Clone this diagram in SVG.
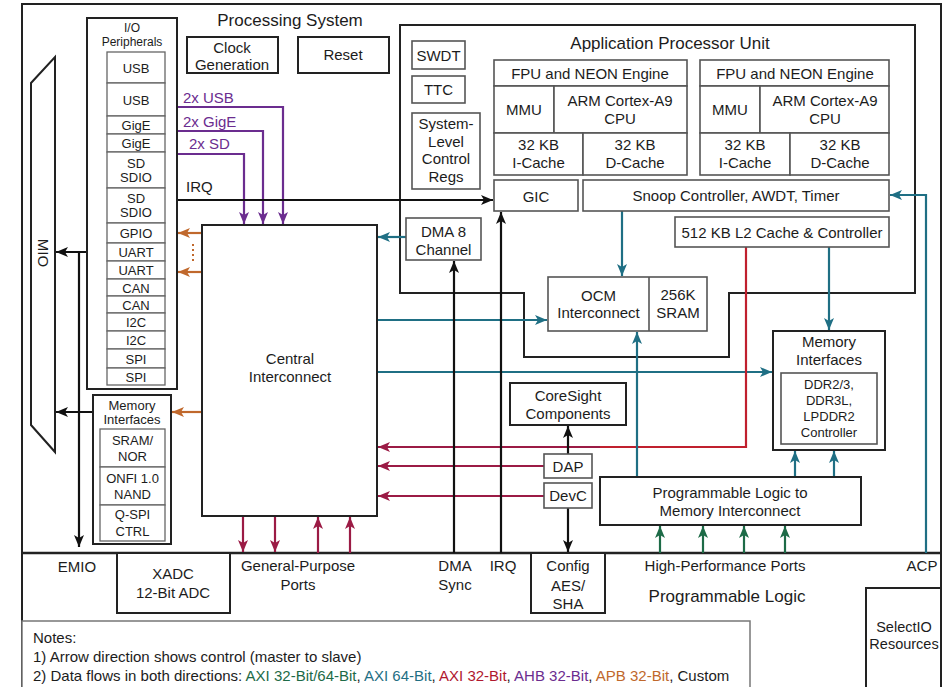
<svg xmlns="http://www.w3.org/2000/svg" width="945" height="687" viewBox="0 0 945 687">
<defs>
<style>
text{font-family:"Liberation Sans",Arial,sans-serif;fill:#1c1c1c;text-anchor:middle;dominant-baseline:central;font-size:15px}
.s13{font-size:13px}
.s12{font-size:12px}
.t17{font-size:17px}
.box{fill:#fff;stroke:#222;stroke-width:2}
.sub{fill:#fff;stroke:#555;stroke-width:1.6}
.cell{fill:#fff;stroke:#666;stroke-width:1.3}
.ln{fill:none;stroke-width:2.2}
.k{stroke:#111}
.tl{stroke:#1f6f84}
.rd{stroke:#9b1b45}
.pu{stroke:#6b2d8f}
.or{stroke:#c0682c}
.gr{stroke:#1d6b47}
.left{text-anchor:start}
</style>
<marker id="ak" viewBox="0 0 12 10" refX="12" refY="5" markerWidth="12" markerHeight="10" markerUnits="userSpaceOnUse" orient="auto"><path d="M0,0 L12,5 L0,10 L3,5 Z" fill="#111"/></marker>
<marker id="at" viewBox="0 0 12 10" refX="12" refY="5" markerWidth="12" markerHeight="10" markerUnits="userSpaceOnUse" orient="auto"><path d="M0,0 L12,5 L0,10 L3,5 Z" fill="#1f6f84"/></marker>
<marker id="ar" viewBox="0 0 12 10" refX="12" refY="5" markerWidth="12" markerHeight="10" markerUnits="userSpaceOnUse" orient="auto"><path d="M0,0 L12,5 L0,10 L3,5 Z" fill="#9b1b45"/></marker>
<marker id="ap" viewBox="0 0 12 10" refX="12" refY="5" markerWidth="12" markerHeight="10" markerUnits="userSpaceOnUse" orient="auto"><path d="M0,0 L12,5 L0,10 L3,5 Z" fill="#6b2d8f"/></marker>
<marker id="ao" viewBox="0 0 12 10" refX="12" refY="5" markerWidth="12" markerHeight="10" markerUnits="userSpaceOnUse" orient="auto"><path d="M0,0 L12,5 L0,10 L3,5 Z" fill="#c0682c"/></marker>
<marker id="ag" viewBox="0 0 12 10" refX="12" refY="5" markerWidth="12" markerHeight="10" markerUnits="userSpaceOnUse" orient="auto"><path d="M0,0 L12,5 L0,10 L3,5 Z" fill="#1d6b47"/></marker>
</defs>
<rect width="945" height="687" fill="#fff"/>

<!-- outer frames -->
<g id="frame">
<rect x="22" y="4" width="919" height="700" fill="none" stroke="#222" stroke-width="2"/>
<line x1="22" y1="553" x2="941" y2="553" stroke="#222" stroke-width="2.5"/>
<text x="290" y="20" class="t17">Processing System</text>
<text x="727" y="596" class="t17">Programmable Logic</text>
</g>

<!-- APU -->
<g id="apu">
<path d="M400,25 H915 V293 H729 V357 H524 V293 H400 Z" fill="none" stroke="#222" stroke-width="2"/>
<text x="670" y="43" class="t17">Application Processor Unit</text>
</g>

<g id="connectors">
<!-- AHB purple -->
<path class="ln pu" d="M177,107 H283 V224" marker-end="url(#ap)"/>
<path class="ln pu" d="M177,131 H263 V224" marker-end="url(#ap)"/>
<path class="ln pu" d="M177,154 H244 V224" marker-end="url(#ap)"/>
<!-- IRQ -->
<path class="ln k" d="M177,200 H493" marker-end="url(#ak)"/>
<!-- APB orange -->
<path class="ln or" d="M202,233 H178" marker-end="url(#ao)"/>
<path class="ln or" d="M202,272 H178" marker-end="url(#ao)"/>
<line x1="193" y1="244" x2="193" y2="262" stroke="#c0682c" stroke-width="2" stroke-dasharray="2,3"/>
<path class="ln or" d="M202,412 H172" marker-end="url(#ao)"/>
<!-- MIO / EMIO -->
<path class="ln k" d="M107,252 H56" marker-end="url(#ak)"/>
<path class="ln k" d="M79,252 V547" marker-end="url(#ak)"/>
<path class="ln k" d="M93,412 H56" marker-end="url(#ak)"/>
<!-- DMA teal -->
<path class="ln tl" d="M406,237 H378" marker-end="url(#at)"/>
<!-- central to OCM / memory -->
<path class="ln tl" d="M377,320 H547" marker-end="url(#at)"/>
<path class="ln tl" d="M377,372 H772" marker-end="url(#at)"/>
<!-- snoop to OCM, L2 to memory -->
<path class="ln tl" d="M622,211 V276" marker-end="url(#at)"/>
<path class="ln tl" d="M829,247 V330" marker-end="url(#at)"/>
<!-- ACP -->
<path class="ln tl" d="M926,553 V195 H890" marker-end="url(#at)"/>
<!-- red AXI 32 -->
<path class="ln" stroke="#c0202e" d="M746,247 V447 H600"/>
<path class="ln rd" d="M600,447 H378" marker-end="url(#ar)"/>
<path class="ln rd" d="M544,466 H378" marker-end="url(#ar)"/>
<path class="ln rd" d="M544,496 H378" marker-end="url(#ar)"/>
<!-- DMA sync, IRQ verticals -->
<path class="ln k" d="M454,553 V261" marker-end="url(#ak)"/>
<path class="ln k" d="M501,553 V212" marker-end="url(#ak)"/>
<!-- DAP / DevC -->
<path class="ln k" d="M568,454 V426" marker-end="url(#ak)"/>
<path class="ln k" d="M568,508 V552" marker-end="url(#ak)"/>
<!-- PL to memory interconnect -->
<path class="ln tl" d="M637,477 V332" marker-end="url(#at)"/>
<path class="ln tl" d="M795,477 V451" marker-end="url(#at)"/>
<path class="ln tl" d="M834,477 V451" marker-end="url(#at)"/>
<!-- HP ports green -->
<path class="ln gr" d="M660,553 V526" marker-end="url(#ag)"/>
<path class="ln gr" d="M703,553 V526" marker-end="url(#ag)"/>
<path class="ln gr" d="M744,553 V526" marker-end="url(#ag)"/>
<path class="ln gr" d="M785,553 V526" marker-end="url(#ag)"/>
<!-- GP ports red -->
<path class="ln rd" d="M243,516 V552" marker-end="url(#ar)"/>
<path class="ln rd" d="M275,516 V552" marker-end="url(#ar)"/>
<path class="ln rd" d="M318,553 V517" marker-end="url(#ar)"/>
<path class="ln rd" d="M350,553 V517" marker-end="url(#ar)"/>
</g>

<g id="labels">
<text x="183" y="97" class="left" style="fill:#6b2d8f">2x USB</text>
<text x="183" y="121" class="left" style="fill:#6b2d8f">2x GigE</text>
<text x="189" y="143" class="left" style="fill:#6b2d8f">2x SD</text>
<text x="186" y="186" class="left">IRQ</text>
<text x="77" y="566">EMIO</text>
<text x="298" y="565">General-Purpose</text>
<text x="298" y="584">Ports</text>
<text x="455" y="565">DMA</text>
<text x="455" y="584">Sync</text>
<text x="503" y="565">IRQ</text>
<text x="725" y="565">High-Performance Ports</text>
<text x="922" y="565">ACP</text>
</g>

<g id="mio">
<path d="M31,83 L55,57 V452 L31,425 Z" fill="#fff" stroke="#222" stroke-width="2"/>
<text x="43" y="253" transform="rotate(90 43 253)">MIO</text>
</g>

<g id="io-peripherals">
<rect class="box" x="87" y="18" width="90" height="371"/>
<text x="132" y="28" class="s12">I/O</text>
<text x="132" y="42" class="s12">Peripherals</text>
<rect class="cell" x="107" y="52" width="58" height="31"/>
<rect class="cell" x="107" y="83" width="58" height="33"/>
<rect class="cell" x="107" y="116" width="58" height="18"/>
<rect class="cell" x="107" y="134" width="58" height="18"/>
<rect class="cell" x="107" y="152" width="58" height="36"/>
<rect class="cell" x="107" y="188" width="58" height="35"/>
<rect class="cell" x="107" y="223" width="58" height="20"/>
<rect class="cell" x="107" y="243" width="58" height="18"/>
<rect class="cell" x="107" y="261" width="58" height="18"/>
<rect class="cell" x="107" y="279" width="58" height="17"/>
<rect class="cell" x="107" y="296" width="58" height="17"/>
<rect class="cell" x="107" y="313" width="58" height="18"/>
<rect class="cell" x="107" y="331" width="58" height="18"/>
<rect class="cell" x="107" y="349" width="58" height="19"/>
<rect class="cell" x="107" y="368" width="58" height="17"/>
<text x="136" y="68" class="s13">USB</text>
<text x="136" y="100" class="s13">USB</text>
<text x="136" y="125" class="s13">GigE</text>
<text x="136" y="143" class="s13">GigE</text>
<text x="136" y="163" class="s13">SD</text>
<text x="136" y="177" class="s13">SDIO</text>
<text x="136" y="198" class="s13">SD</text>
<text x="136" y="212" class="s13">SDIO</text>
<text x="136" y="233" class="s13">GPIO</text>
<text x="136" y="252" class="s13">UART</text>
<text x="136" y="270" class="s13">UART</text>
<text x="136" y="288" class="s13">CAN</text>
<text x="136" y="305" class="s13">CAN</text>
<text x="136" y="322" class="s13">I2C</text>
<text x="136" y="340" class="s13">I2C</text>
<text x="136" y="359" class="s13">SPI</text>
<text x="136" y="377" class="s13">SPI</text>
</g>

<g id="clock">
<rect class="box" x="187" y="37" width="91" height="36"/>
<text x="232" y="47">Clock</text>
<text x="232" y="64">Generation</text>
</g>
<g id="reset">
<rect class="box" x="298" y="37" width="91" height="36"/>
<text x="343" y="54">Reset</text>
</g>

<g id="mem-if-left">
<rect class="box" x="93" y="395" width="78" height="149"/>
<text x="132" y="405" class="s13">Memory</text>
<text x="132" y="419" class="s13">Interfaces</text>
<rect class="cell" x="100" y="429" width="65" height="38"/>
<rect class="cell" x="100" y="467" width="65" height="38"/>
<rect class="cell" x="100" y="505" width="65" height="36"/>
<text x="132.5" y="440" class="s13">SRAM/</text>
<text x="132.5" y="456" class="s13">NOR</text>
<text x="132.5" y="478" class="s13">ONFI 1.0</text>
<text x="132.5" y="494" class="s13">NAND</text>
<text x="132.5" y="514" class="s13">Q-SPI</text>
<text x="132.5" y="531" class="s13">CTRL</text>
</g>

<g id="central">
<rect class="box" x="202" y="225" width="175" height="291"/>
<text x="290" y="358">Central</text>
<text x="290" y="376">Interconnect</text>
</g>

<g id="swdt"><rect class="sub" x="412" y="41" width="53" height="28"/><text x="438.5" y="55">SWDT</text></g>
<g id="ttc"><rect class="sub" x="412" y="76" width="53" height="27"/><text x="438.5" y="89.5">TTC</text></g>
<g id="slcr"><rect class="sub" x="412" y="113" width="68" height="76"/>
<text x="446" y="123">System-</text><text x="446" y="141">Level</text><text x="446" y="158">Control</text><text x="446" y="176">Regs</text></g>

<g id="cpu0">
<rect class="sub" x="494" y="60" width="193" height="26"/>
<rect class="sub" x="494" y="86" width="60" height="47"/>
<rect class="sub" x="554" y="86" width="133" height="47"/>
<rect class="sub" x="494" y="133" width="89" height="42"/>
<rect class="sub" x="583" y="133" width="104" height="42"/>
<text x="590" y="73">FPU and NEON Engine</text>
<text x="524" y="109">MMU</text>
<text x="620" y="100">ARM Cortex-A9</text>
<text x="620" y="118">CPU</text>
<text x="538.5" y="144">32 KB</text>
<text x="538.5" y="162">I-Cache</text>
<text x="635" y="144">32 KB</text>
<text x="635" y="162">D-Cache</text>
</g>
<g id="cpu1">
<rect class="sub" x="700" y="60" width="189" height="26"/>
<rect class="sub" x="700" y="86" width="60" height="47"/>
<rect class="sub" x="760" y="86" width="129" height="47"/>
<rect class="sub" x="700" y="133" width="90" height="42"/>
<rect class="sub" x="790" y="133" width="99" height="42"/>
<text x="795" y="73">FPU and NEON Engine</text>
<text x="730" y="109">MMU</text>
<text x="825" y="100">ARM Cortex-A9</text>
<text x="825" y="118">CPU</text>
<text x="745" y="144">32 KB</text>
<text x="745" y="162">I-Cache</text>
<text x="840" y="144">32 KB</text>
<text x="840" y="162">D-Cache</text>
</g>

<g id="gic"><rect class="sub" x="494" y="180" width="84" height="31"/><text x="536" y="196">GIC</text></g>
<g id="snoop"><rect class="sub" x="583" y="180" width="306" height="31"/><text x="736" y="195">Snoop Controller, AWDT, Timer</text></g>
<g id="l2"><rect class="sub" x="675" y="217" width="214" height="30"/><text x="782" y="232">512 KB L2 Cache &amp; Controller</text></g>
<g id="dma"><rect class="sub" x="406" y="218" width="75" height="42"/><text x="443.5" y="231">DMA 8</text><text x="443.5" y="249">Channel</text></g>

<g id="ocm">
<rect class="sub" x="548" y="277" width="159" height="54"/>
<line x1="649" y1="277" x2="649" y2="331" stroke="#555" stroke-width="1.6"/>
<text x="598.5" y="295">OCM</text>
<text x="598.5" y="312">Interconnect</text>
<text x="678" y="294">256K</text>
<text x="678" y="312">SRAM</text>
</g>

<g id="mem-if-right">
<rect class="box" x="773" y="331" width="112" height="119"/>
<text x="829" y="341">Memory</text>
<text x="829" y="359">Interfaces</text>
<rect class="sub" x="781" y="373" width="96" height="71"/>
<text x="829" y="384" class="s13">DDR2/3,</text>
<text x="829" y="400" class="s13">DDR3L,</text>
<text x="829" y="416" class="s13">LPDDR2</text>
<text x="829" y="432" class="s13">Controller</text>
</g>

<g id="coresight"><rect class="box" x="510" y="383" width="116" height="42"/><text x="568" y="395">CoreSight</text><text x="568" y="413">Components</text></g>
<g id="dap"><rect class="sub" x="544" y="454" width="48" height="24"/><text x="568" y="466">DAP</text></g>
<g id="devc"><rect class="sub" x="544" y="483" width="48" height="25"/><text x="568" y="495.5">DevC</text></g>

<g id="plmi"><rect class="box" x="600" y="477" width="261" height="48"/><text x="730" y="492">Programmable Logic to</text><text x="730" y="510">Memory Interconnect</text></g>

<g id="xadc"><rect class="box" x="117" y="553" width="113" height="60"/><text x="173" y="573">XADC</text><text x="173" y="592">12-Bit ADC</text></g>
<g id="config"><rect class="box" x="531" y="553" width="74" height="60"/><text x="568" y="565">Config</text><text x="568" y="585">AES/</text><text x="568" y="603">SHA</text></g>
<g id="selectio"><rect class="box" x="866" y="588" width="75" height="110"/><text x="904" y="627" style="font-size:14.5px">SelectIO</text><text x="904" y="644" style="font-size:14.5px">Resources</text></g>

<g id="notes">
<rect x="22" y="621" width="728" height="80" fill="#fff" stroke="#777" stroke-width="1.5"/>
<text x="33" y="637" class="left">Notes:</text>
<text x="33" y="656" class="left">1) Arrow direction shows control (master to slave)</text>
<text x="33" y="675" class="left">2) Data flows in both directions: <tspan style="fill:#1d6b47">AXI 32-Bit/64-Bit</tspan>, <tspan style="fill:#1f6f84">AXI 64-Bit</tspan>, <tspan style="fill:#b0182e">AXI 32-Bit</tspan>, <tspan style="fill:#6b2d8f">AHB 32-Bit</tspan>, <tspan style="fill:#c0682c">APB 32-Bit</tspan>, Custom</text>
</g>
</svg>
